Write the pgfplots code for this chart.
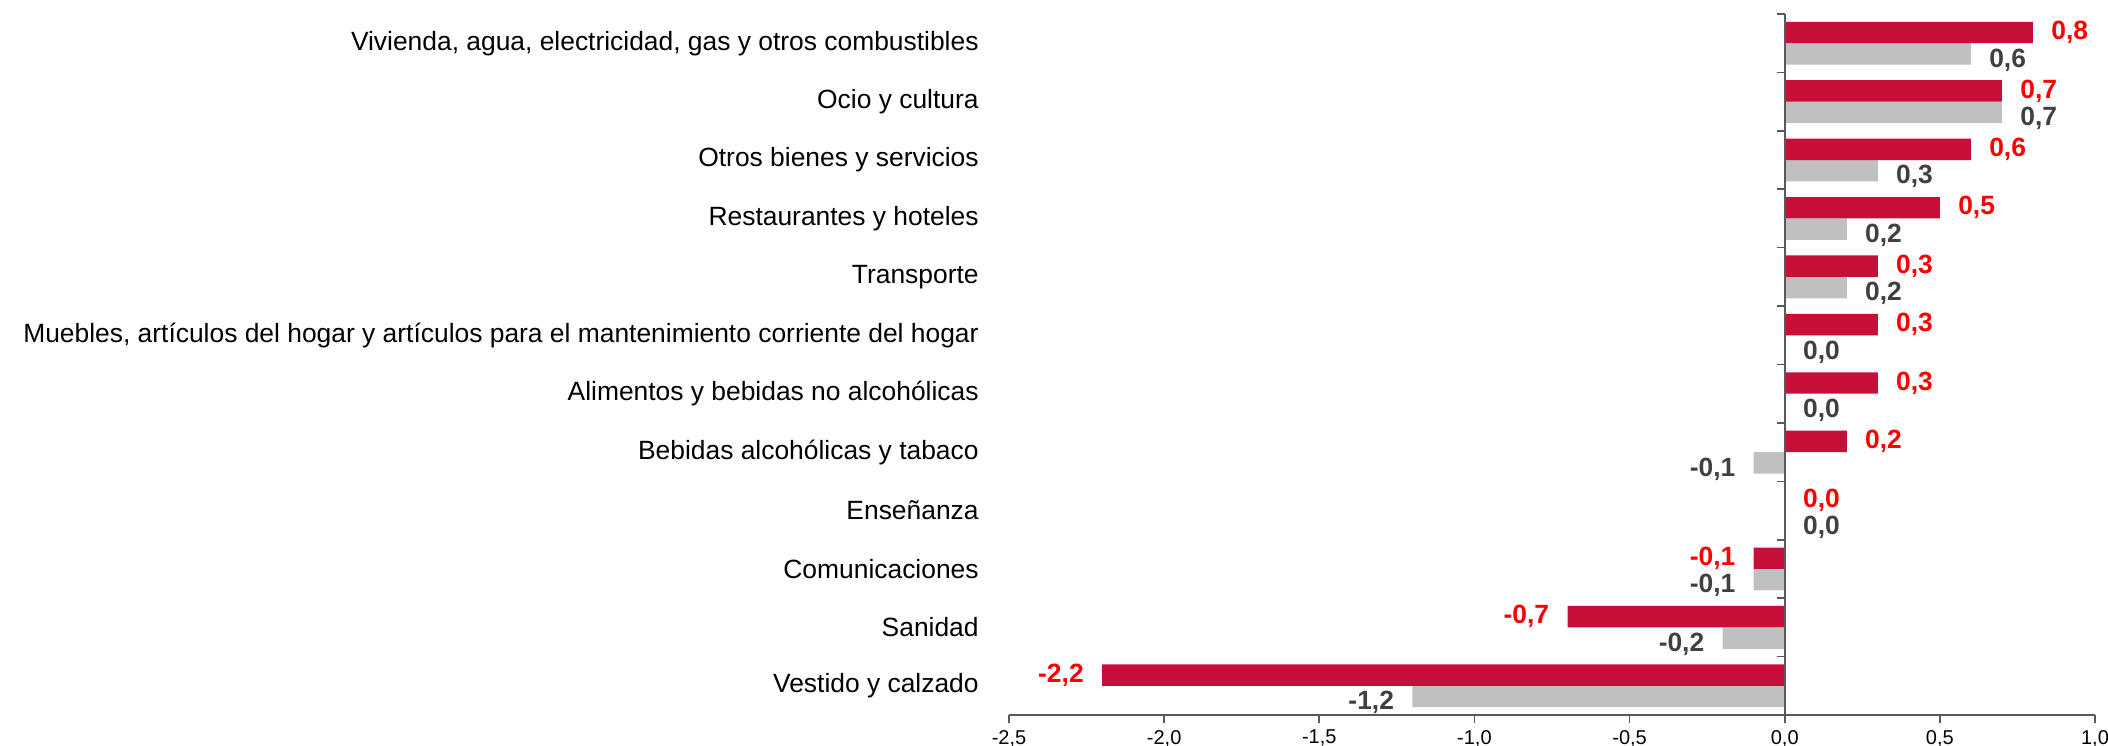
\documentclass[border=0pt]{standalone}
\usepackage{fontspec}
\setmainfont{Liberation Sans}
\usepackage{pgfplots}
\pgfplotsset{compat=1.18}
\definecolor{barred}{HTML}{C70F3A}
\definecolor{bargray}{HTML}{C0C0C0}
\definecolor{lblred}{HTML}{FF0000}
\definecolor{lblgray}{HTML}{404040}
\definecolor{axisgray}{HTML}{595959}

\begin{document}
\begin{tikzpicture}
\useasboundingbox (0,0) rectangle (1054pt,-372.5pt);
\begin{axis}[
    at={(504.5pt,-7pt)}, anchor=north west,
    scale only axis,
    width=543pt, height=350.5pt,
    xbar=0pt, bar width=10.7pt,
    xmin=-2.5, xmax=1.0,
    ymin=-0.5, ymax=11.5,
    y dir=reverse,
    enlargelimits=false,
    axis x line*=bottom,
    axis y line*=left,
    y axis line style={draw=none},
    x axis line style={draw=axisgray, line width=0.8pt},
    xtick={-2.5,-2,...,1},
    tick align=outside,
    major tick length=4pt,
    xtick style={draw=axisgray, line width=0.8pt},
    ytick style={draw=none},
    ytick={0,...,11},
    yticklabels={
        {Vivienda, agua, electricidad, gas y otros combustibles},
        {Ocio y cultura},
        {Otros bienes y servicios\ },
        {Restaurantes y hoteles},
        {Transporte},
        {Muebles, artículos del hogar y artículos para el mantenimiento corriente del hogar},
        {Alimentos y bebidas no alcohólicas},
        {Bebidas alcohólicas y tabaco},
        {Enseñanza},
        {Comunicaciones},
        {Sanidad},
        {Vestido y calzado}},
    yticklabel style={font=\fontsize{13.2}{16}\selectfont, anchor=east, inner sep=0pt, xshift=-11pt},
    xticklabel style={font=\fontsize{10}{12}\selectfont},
    /pgf/number format/.cd, use comma, fixed, fixed zerofill, precision=1, assume math mode=true,
    /pgfplots/.cd,
    point meta=x,
    nodes near coords,
    nodes near coords align={horizontal},
    every node near coord/.append style={font=\fontsize{13.2}{16}\selectfont\bfseries, inner xsep=9pt, inner ysep=0pt},
    clip=false,
]
% second series (gray) first so that it sits below the red bar
\addplot[fill=bargray, draw=none, every node near coord/.append style={text=lblgray, yshift=-3pt}] coordinates {
    (0.6,0) (0.7,1) (0.3,2) (0.2,3) (0.2,4) (0.0,5)
    (0.0,6) (-0.1,7) (0.0,8) (-0.1,9) (-0.2,10) (-1.2,11)
};
\addplot[fill=barred, draw=none, every node near coord/.append style={text=lblred}] coordinates {
    (0.8,0) (0.7,1) (0.6,2) (0.5,3) (0.3,4) (0.3,5)
    (0.3,6) (0.2,7) (0.0,8) (-0.1,9) (-0.7,10) (-2.2,11)
};
\draw[axisgray, line width=0.8pt] (axis cs:0,-0.5) -- (axis cs:0,11.5);
\pgfplotsinvokeforeach{-0.5,0.5,1.5,2.5,3.5,4.5,5.5,6.5,7.5,8.5,9.5,10.5}{
    \draw[axisgray, line width=0.8pt] (axis cs:0,#1) -- ([xshift=-4pt]axis cs:0,#1);
}
\end{axis}
\end{tikzpicture}
\end{document}
